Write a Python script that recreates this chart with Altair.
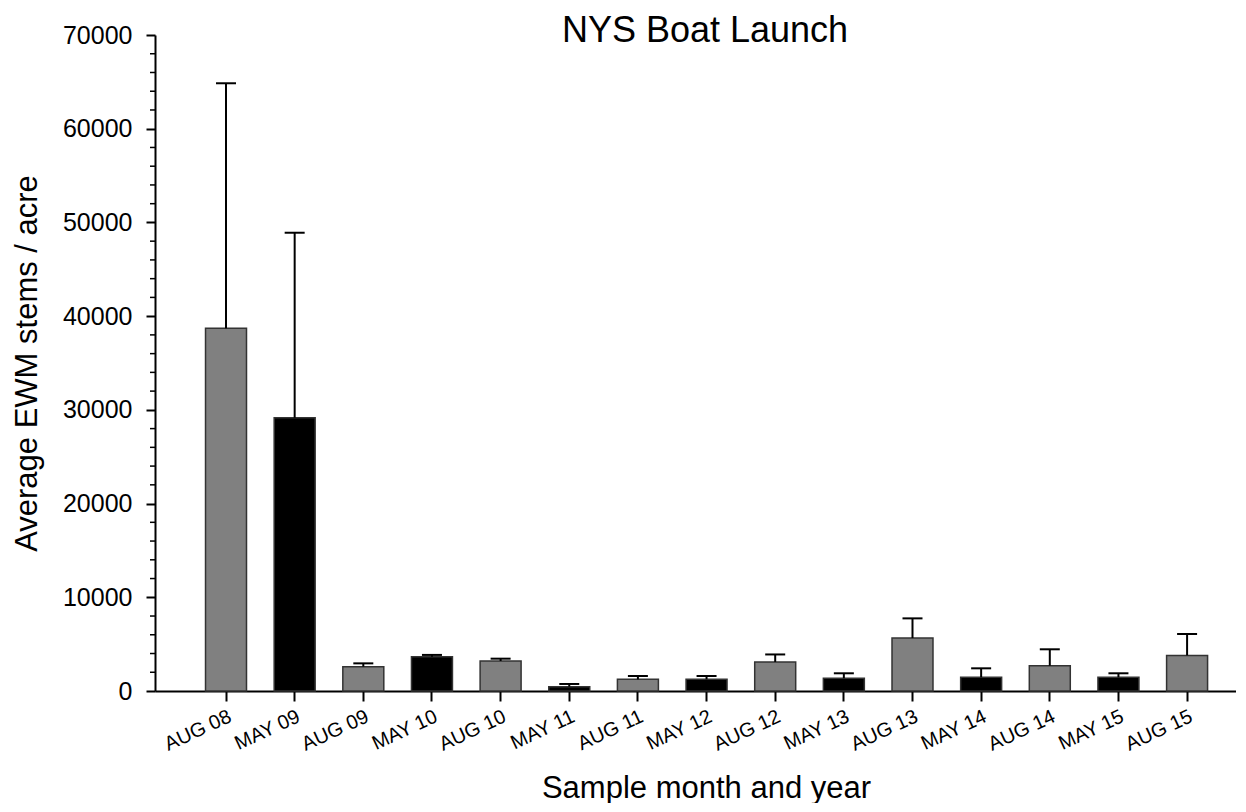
import altair as alt
import pandas as pd

title_text = ["NYS Boat Launch"]
labels = ["AUG 08", "MAY 09", "AUG 09", "MAY 10", "AUG 10", "MAY 11", "AUG 11", "MAY 12",
          "AUG 12", "MAY 13", "AUG 13", "MAY 14", "AUG 14", "MAY 15", "AUG 15"]
means = [38700, 29150, 2600, 3650, 3200, 460, 1250, 1250, 3100, 1360, 5650, 1460, 2700, 1460, 3800]
errors = [26150, 19750, 350, 200, 250, 290, 350, 350, 800, 530, 2100, 960, 1750, 430, 2280]
major_ticks = [0, 10000, 20000, 30000, 40000, 50000, 60000, 70000]
minor_ticks = [v for v in range(2000, 70000, 2000) if v % 10000 != 0]

df = pd.DataFrame({"sample": labels, "mean": means, "err": errors})
df["upper"] = df["mean"] + df["err"]
df["season"] = df["sample"].str[:3]
minor_df = pd.DataFrame({"v": minor_ticks})
title_df = pd.DataFrame({"t": title_text})

FONT = "Liberation Sans"
xscale = alt.Scale(domain=labels, paddingInner=0.403, paddingOuter=0.575, align=0.64)
yscale = alt.Scale(domain=[0, 70000], nice=False)

x_axis = alt.Axis(
    title="Sample month and year", labelAngle=-25, labelAlign="right", labelBaseline="top",
    labelFontSize=20, labelPadding=5, tickSize=10, tickWidth=2, domainWidth=2,
    titleFontSize=31, titleX=551, titleY=106, titleBaseline="alphabetic", titleAlign="center",
)
y_axis = alt.Axis(
    title="Average EWM stems / acre", values=major_ticks, format="d", labelFontSize=25,
    labelPadding=14, tickSize=9, tickWidth=2, domainWidth=2, grid=False,
    titleFontSize=31, titleX=-119, titleY=328, titleAngle=-90, titleBaseline="alphabetic",
    titleAlign="center",
)

X = alt.X("sample:N", sort=labels, scale=xscale, axis=x_axis)

base = alt.Chart(df)

bars = base.mark_bar(stroke="#333333", strokeWidth=1.5).encode(
    x=X,
    y=alt.Y("mean:Q", scale=yscale, axis=y_axis),
    color=alt.Color("season:N", scale=alt.Scale(domain=["AUG", "MAY"], range=["#808080", "#000000"]), legend=None),
)

err_lines = base.mark_rule(color="black", strokeWidth=2).encode(
    x=X,
    y=alt.Y("mean:Q", scale=yscale, axis=y_axis),
    y2="upper:Q",
)

err_caps = base.mark_tick(color="black", size=20, thickness=2, opacity=1).encode(
    x=X,
    y=alt.Y("upper:Q", scale=yscale, axis=y_axis),
)

minor = alt.Chart(minor_df).mark_rule(color="black", strokeWidth=1.5).encode(
    y=alt.Y("v:Q", scale=yscale, axis=y_axis),
    x=alt.value(-5),
    x2=alt.value(0),
)

title = alt.Chart(title_df).mark_text(
    fontSize=36, font=FONT, color="black", align="center", baseline="alphabetic"
).encode(text="t:N", x=alt.value(550), y=alt.value(7))

chart = alt.layer(bars, err_lines, err_caps, minor, title).properties(
    width=1081,
    height=656,
    autosize=alt.AutoSizeParams(type="none"),
    padding={"left": 147, "top": 27, "right": 0, "bottom": 112},
).configure(font=FONT).configure_view(stroke=None).configure_axis(
    domainColor="black", tickColor="black", labelColor="black", titleColor="black",
    labelFont=FONT, titleFont=FONT, titleFontWeight="normal",
)

chart.save("out.html", embed_options={"renderer": "svg", "actions": False})
